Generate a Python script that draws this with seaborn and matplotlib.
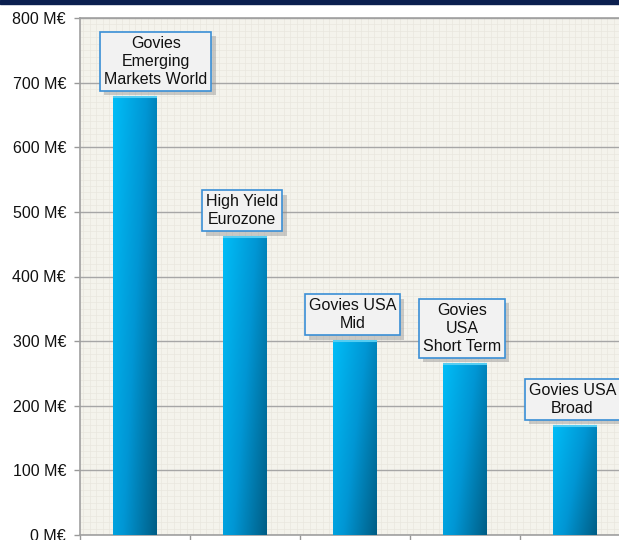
import numpy as np
import pandas as pd
import matplotlib
matplotlib.use("Agg")
import matplotlib.pyplot as plt
import matplotlib.patheffects as pe
from matplotlib.ticker import MultipleLocator, FuncFormatter
from matplotlib.colors import LinearSegmentedColormap
import seaborn as sns

# data
categories = ["Govies\nEmerging\nMarkets World", "High Yield\nEurozone",
              "Govies USA\nMid", "Govies\nUSA\nShort Term", "Govies USA\nBroad"]
values = [678, 461, 300, 265, 169]

df = pd.DataFrame({"cat": categories, "val": values})

sns.set_style("white")
plt.rcParams["font.family"] = ["Liberation Sans", "DejaVu Sans"]

fig = plt.figure(figsize=(6.19, 5.40), dpi=100)
# axes right edge runs past the figure, as in the reference
ax = fig.add_axes([80 / 619, 5 / 540, 550 / 619, 517 / 540])
ax.set_facecolor("#f4f3ec")

sns.barplot(data=df, x="cat", y="val", width=0.4, ax=ax, color="#0aa0e0", zorder=3)

# gradient fill for each bar
cmap = LinearSegmentedColormap.from_list("bluegrad", ["#00bdf7", "#0096d4", "#005e86"])
gx, gy = np.meshgrid(np.linspace(0, 1, 64), np.linspace(0, 1, 64))
grad = 0.65 * gx + 0.35 * (1 - gy)
for p in ax.patches:
    x0, y0 = p.get_x(), p.get_y()
    w, h = p.get_width(), p.get_height()
    im = ax.imshow(grad, cmap=cmap, extent=[x0, x0 + w, y0, y0 + h],
                   origin="lower", aspect="auto", zorder=3.1, vmin=0, vmax=1)
    im.set_clip_path(p)
    p.set_facecolor("none")
    p.set_edgecolor("none")
    # light rim along the bar top
    ax.plot([x0, x0 + w], [y0 + h, y0 + h], color="#55cdf2", lw=1.5, zorder=3.2,
            solid_capstyle="butt")

ax.set_xlim(-0.5, 4.5)
ax.set_ylim(0, 800)

# labels in boxes above each bar (first one nudged right, off the axis)
for i, (lab, v) in enumerate(zip(categories, values)):
    dx = 15 if i == 0 else -2
    t = ax.annotate(lab, xy=(i, v), xytext=(dx, 7), textcoords="offset points",
                    ha="center", va="bottom", fontsize=11.5, color="#111111",
                    linespacing=1.25, zorder=5,
                    bbox=dict(boxstyle="square,pad=0.25", fc="#f2f2f2",
                              ec="#3a8fd6", lw=1.2))
    t.get_bbox_patch().set_path_effects([
        pe.SimplePatchShadow(offset=(3, -3), shadow_rgbFace="#888888", alpha=0.4),
        pe.Normal()])

# axes, ticks and grid
ax.yaxis.set_major_locator(MultipleLocator(100))
ax.yaxis.set_minor_locator(MultipleLocator(10))
ax.yaxis.set_major_formatter(FuncFormatter(lambda v, pos: f"{v:.0f} M€"))
ax.set_xticks(np.arange(-0.5, 5, 1))
ax.set_xticklabels([])
ax.xaxis.set_minor_locator(MultipleLocator(1 / 17))

ax.grid(which="major", axis="y", color="#a6a6a6", lw=1.0, zorder=1)
ax.grid(which="minor", axis="both", color="#e9e7de", lw=0.5, zorder=0.5)
ax.set_axisbelow(True)

ax.tick_params(axis="y", which="major", length=4, width=1, color="#999999",
               labelsize=11.5, labelcolor="#111111", pad=6, left=True)
ax.tick_params(axis="x", which="major", length=5, width=1, color="#999999",
               bottom=True, direction="out")
ax.tick_params(which="minor", length=0)

for s in ["left", "top", "bottom", "right"]:
    ax.spines[s].set_color("#a0a0a0")
    ax.spines[s].set_linewidth(1.2)

ax.set_xlabel("")
ax.set_ylabel("")

# dark header strip at the very top
fig.patches.append(plt.Rectangle((0, 536 / 540), 1, 4 / 540, transform=fig.transFigure,
                                 color="#0b1f4f", zorder=10))

fig.savefig("out.png", dpi=100)
